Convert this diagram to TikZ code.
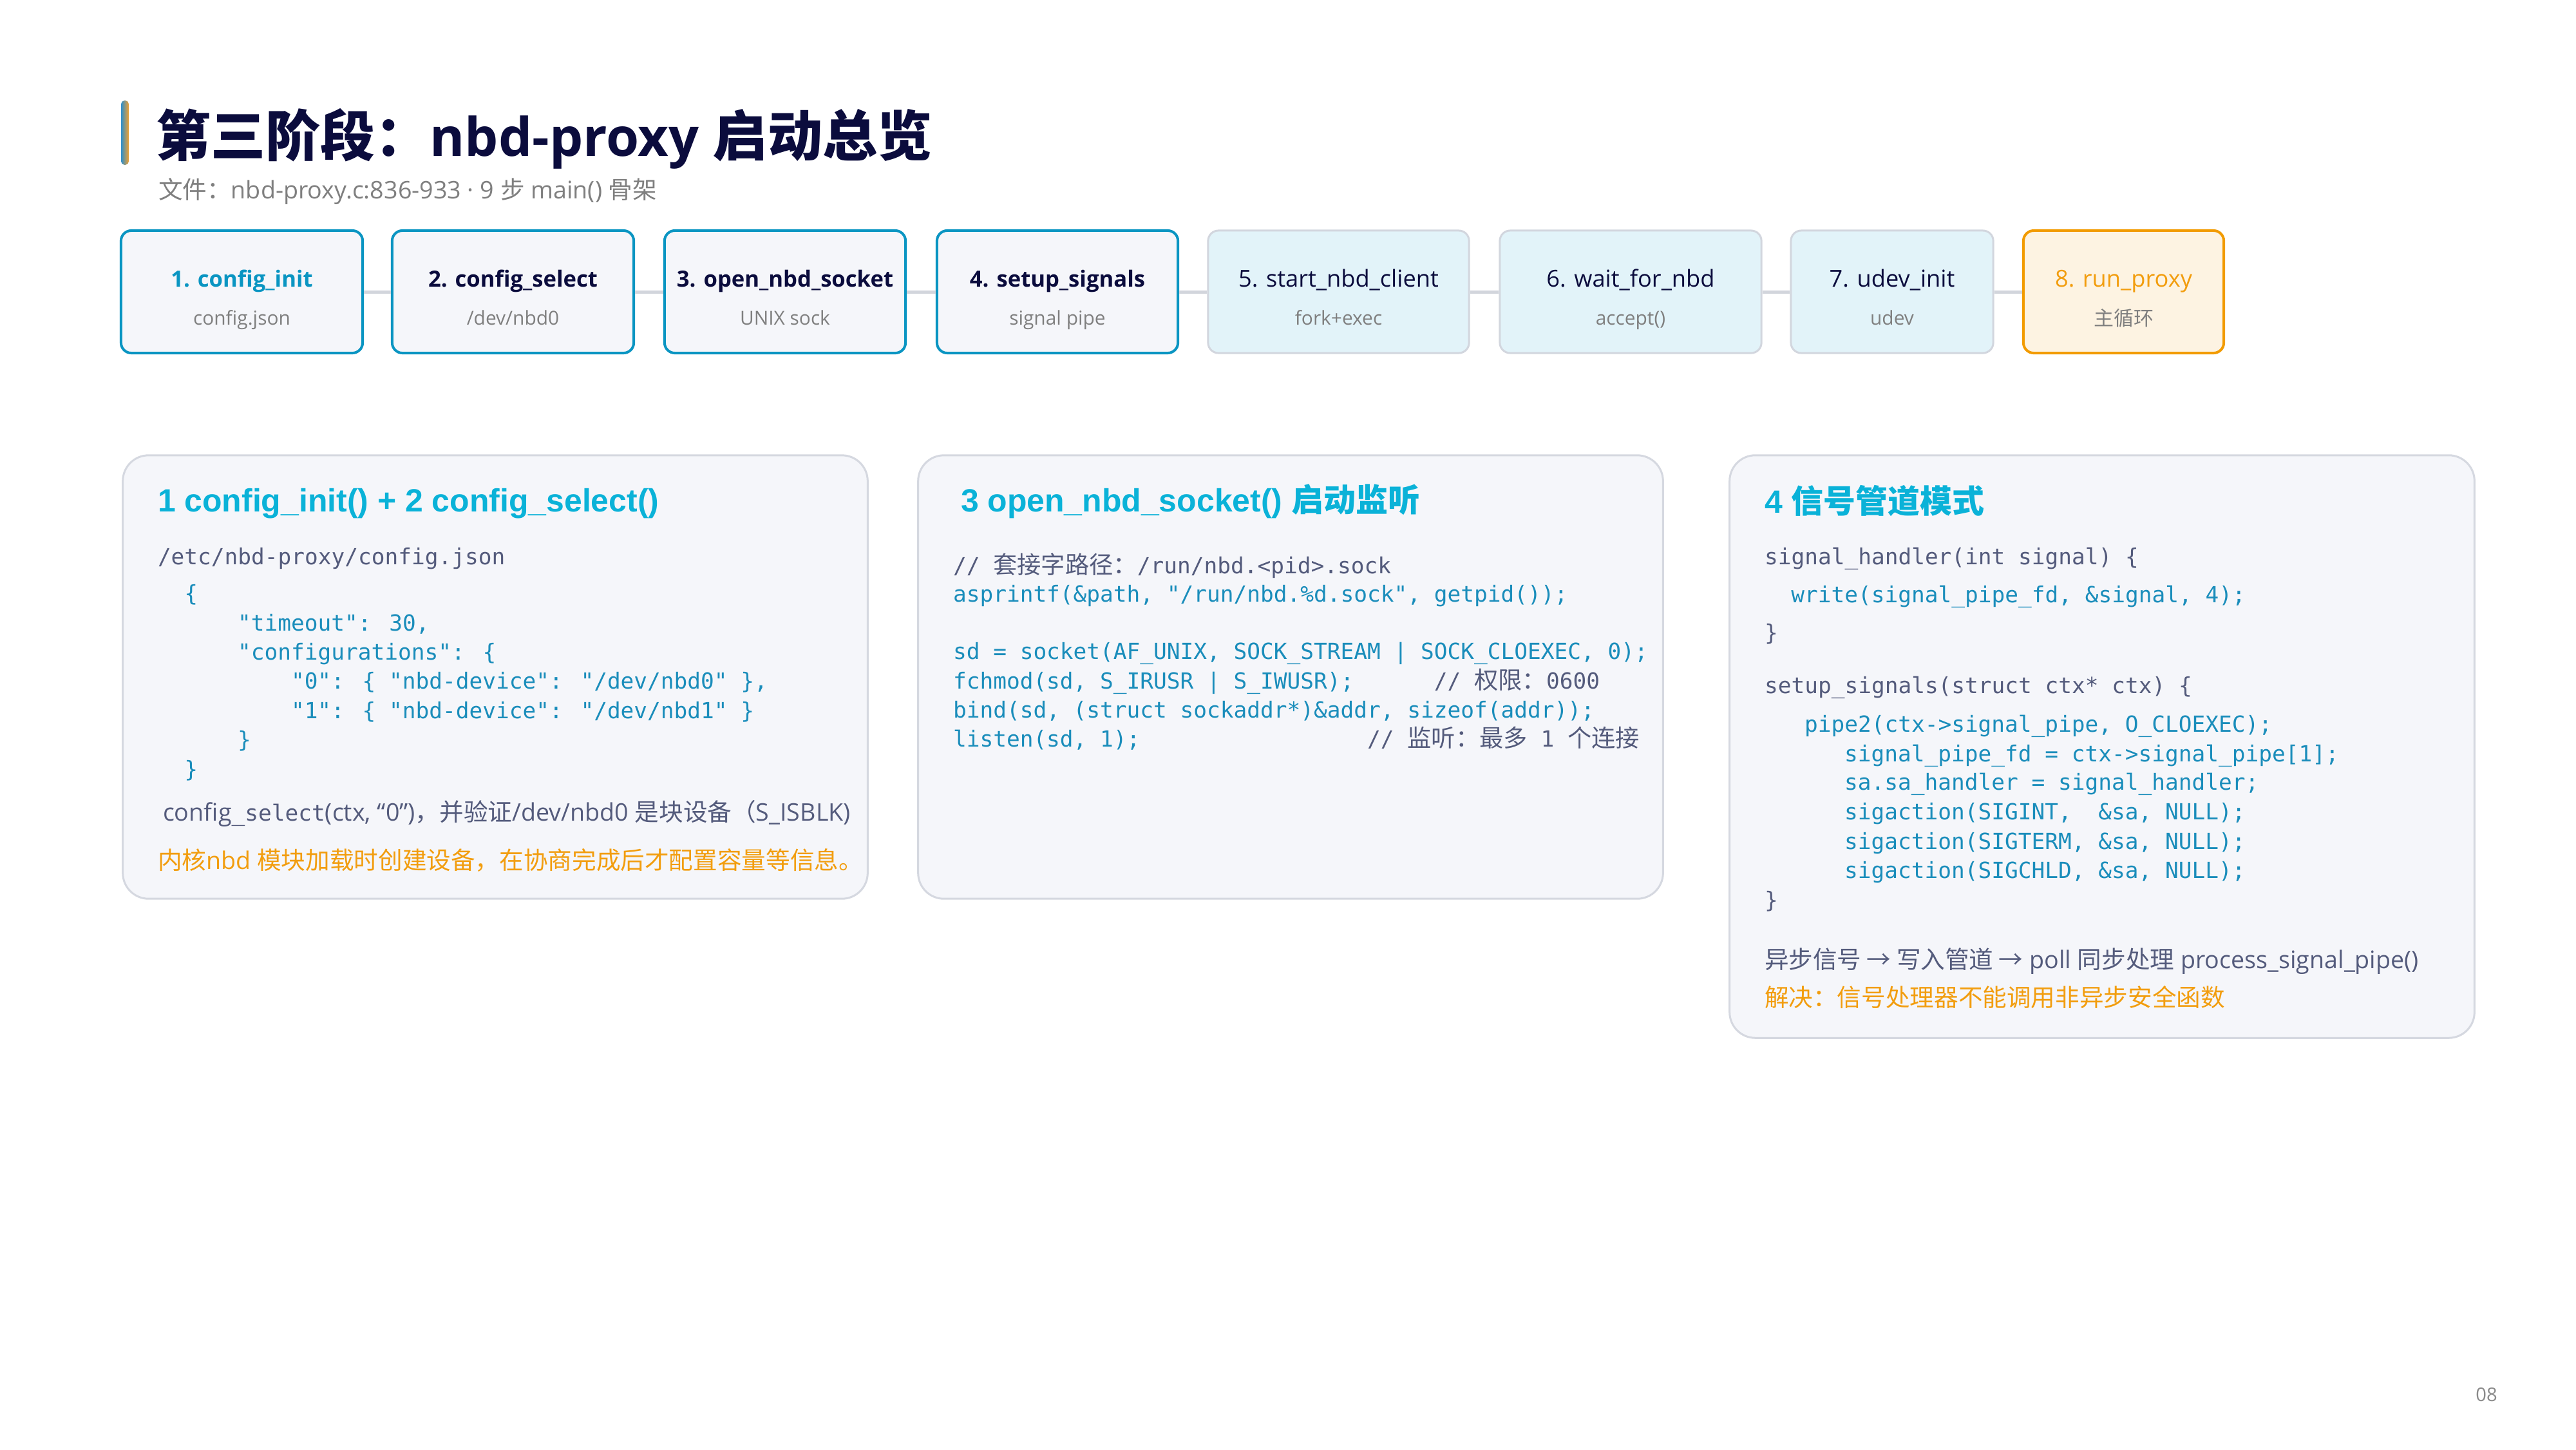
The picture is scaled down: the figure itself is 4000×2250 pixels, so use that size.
\documentclass[tikz,border=0pt]{standalone}
\usepackage{fontspec}
\setmainfont{Open Sans}
\newfontfamily\cjk{Noto Sans CJK SC}
\newfontfamily\mono{DejaVu Sans Mono}
\newfontfamily\arialf{Liberation Sans}
\usetikzlibrary{calc}
\newcommand\setfs[1]{\fontsize{#1}{#1}\selectfont}
\newcommand\ccj[1]{{\cjk\setfs{10.6pt}#1}}
\definecolor{navy}{HTML}{0B0C3D}
\definecolor{stepblue}{HTML}{0A95C2}
\definecolor{subgrey}{HTML}{7F7F7F}
\definecolor{ptcyan}{HTML}{0AB2D8}
\definecolor{codeblue}{HTML}{1A8DBB}
\definecolor{codegrey}{HTML}{545B7C}
\definecolor{orangec}{HTML}{F29D0E}
\definecolor{stepfill}{HTML}{F5F6FA}
\definecolor{lightfill}{HTML}{E2F3F9}
\definecolor{lightborder}{HTML}{D2D6DE}
\definecolor{creamfill}{HTML}{FDF3E2}
\definecolor{orangeborder}{HTML}{F29B00}
\definecolor{panelfill}{HTML}{F5F6FA}
\definecolor{panelborder}{HTML}{D5D8E0}
\definecolor{connc}{HTML}{D2D5DC}
\definecolor{pagegrey}{HTML}{8A8A8A}
\definecolor{barblue}{HTML}{2F8FCB}
\definecolor{barorange}{HTML}{F0A030}
\tikzset{
  txt/.style={inner sep=0pt, outer sep=0pt, anchor=base west},
  ctxt/.style={inner sep=0pt, outer sep=0pt, anchor=base},
  code/.style={txt, font=\mono\setfs{9.8pt}},
  cblue/.style={code, text=codeblue},
  cgrey/.style={code, text=codegrey},
  body/.style={txt, font=\setfs{10.7pt}, text=codegrey},
  ptitle/.style={txt, font=\arialf\bfseries\setfs{14.2pt}, text=ptcyan},
  stepbase/.style={rectangle, rounded corners=1.6mm, minimum height=19mm, inner sep=0pt},
  stepA/.style={stepbase, draw=stepblue, fill=stepfill, line width=0.4mm},
  stepB/.style={stepbase, draw=lightborder, fill=lightfill, line width=0.3mm},
  stepC/.style={stepbase, draw=orangeborder, fill=creamfill, line width=0.4mm},
  lblb/.style={ctxt, font=\bfseries\setfs{9.85pt}, text=navy},
  lblr/.style={ctxt, font=\setfs{10.3pt}, text=navy},
  sublbl/.style={ctxt, font=\setfs{8.5pt}, text=subgrey},
  conn/.style={draw=connc, line width=0.5mm},
  panel/.style={rectangle, rounded corners=4mm, draw=panelborder, fill=panelfill, line width=0.3mm, inner sep=0pt}
}
\begin{document}
\begin{tikzpicture}[x=0.01cm, y=-0.01cm]
\fill[white] (0,0) rectangle (4000,2250);
\useasboundingbox (0,0) rectangle (4000,2250);

% title
\shade[left color=barblue, right color=barorange, rounded corners=0.55mm] (188,156) rectangle (200,256);
\node[txt, font=\bfseries\setfs{23.5pt}, text=navy] (title) at (242,242) {{\cjk\setfs{24.2pt}第三阶段：}nbd-proxy {\cjk\setfs{24.2pt}启动总览}};
\node[txt, font=\setfs{10.7pt}, text=subgrey] (subtitle) at (246,308) {{\cjk 文件：}nbd-proxy.c:836-933 · 9 {\cjk 步} main() {\cjk 骨架}};

% step boxes
\node[stepA, minimum width=37.5mm] (s1) at (375.5,453) {};
\node[stepA, minimum width=37.5mm] (s2) at (796.5,453) {};
\node[stepA, minimum width=37.4mm] (s3) at (1219,453) {};
\node[stepA, minimum width=37.4mm] (s4) at (1642,453) {};
\node[stepB, minimum width=40.5mm] (s5) at (2078.5,453) {};
\node[stepB, minimum width=40.6mm] (s6) at (2532,453) {};
\node[stepB, minimum width=31.4mm] (s7) at (2938,453) {};
\node[stepC, minimum width=31.1mm] (s8) at (3297.5,453) {};
\draw[conn] (s1.east) -- (s2.west);
\draw[conn] (s2.east) -- (s3.west);
\draw[conn] (s3.east) -- (s4.west);
\draw[conn] (s4.east) -- (s5.west);
\draw[conn] (s5.east) -- (s6.west);
\draw[conn] (s6.east) -- (s7.west);
\draw[conn] (s7.east) -- (s8.west);

\node[lblb, text=stepblue] (l1) at (375.5,445) {1. config\_init};
\node[sublbl] (d1) at (375.5,504) {config.json};
\node[lblb] (l2) at (796.5,445) {2. config\_select};
\node[sublbl] (d2) at (796.5,504) {/dev/nbd0};
\node[lblb] (l3) at (1219,445) {3. open\_nbd\_socket};
\node[sublbl] (d3) at (1219,504) {UNIX sock};
\node[lblb] (l4) at (1642,445) {4. setup\_signals};
\node[sublbl] (d4) at (1642,504) {signal pipe};
\node[lblr] (l5) at (2078.5,445) {5. start\_nbd\_client};
\node[sublbl] (d5) at (2078.5,504) {fork+exec};
\node[lblr] (l6) at (2532,445) {6. wait\_for\_nbd};
\node[sublbl] (d6) at (2532,504) {accept()};
\node[lblr] (l7) at (2938,445) {7. udev\_init};
\node[sublbl] (d7) at (2938,504) {udev};
\node[lblr, text=orangec] (l8) at (3297.5,445) {8. run\_proxy};
\node[sublbl, font=\cjk\setfs{8.8pt}] (d8) at (3297.5,505) {主循环};

% panels
\node[panel, minimum width=115.6mm, minimum height=68.8mm] (p1) at (769,1051) {};
\node[panel, minimum width=115.6mm, minimum height=68.8mm] (p2) at (2004,1051) {};
\node[panel, minimum width=115.6mm, minimum height=90.4mm] (p3) at (3264,1159) {};

% panel 1
\node[ptitle] (t1) at (245,794) {1 config\_init() + 2 config\_select()};
\node[cgrey] (a0) at (245,876) {/etc/nbd-proxy/config.json};
\node[cblue] (a1) at (286.4,933) {\{};
\node[cblue] (a2) at (369.2,979) {"timeout": 30,};
\node[cblue] (a3) at (369.2,1024) {"configurations": \{};
\node[cblue] (a4) at (452,1069) {"0": \{ "nbd-device": "/dev/nbd0" \},};
\node[cblue] (a5) at (452,1115) {"1": \{ "nbd-device": "/dev/nbd1" \}};
\node[cblue] (a6) at (369.2,1160) {\}};
\node[cblue] (a7) at (286.4,1206) {\}};
\node[body] (a8) at (253,1274) {config{\mono\setfs{9.8pt}\_select}(ctx, “0”){\cjk ，并验证}/dev/nbd0 {\cjk 是块设备（}S\_ISBLK)};
\node[body, text=orangec] (a9) at (245,1349) {{\cjk 内核}nbd {\cjk 模块加载时创建设备，在协商完成后才配置容量等信息。}};

% panel 2
\node[ptitle] (t2) at (1492,794) {3 open\_nbd\_socket() {\cjk 启动监听}};
\node[cgrey] (b1) at (1480,890) {// \ccj{套接字路径：}/run/nbd.<pid>.sock};
\node[cblue] (b2) at (1480,934) {asprintf(\&path, "/run/nbd.\%d.sock", getpid());};
\node[cblue] (b3) at (1480,1023) {sd = socket(AF\_UNIX, SOCK\_STREAM | SOCK\_CLOEXEC, 0);};
\node[cblue] (b4) at (1480,1069) {fchmod(sd, S\_IRUSR | S\_IWUSR);~~~~~~{\color{codegrey}// \ccj{权限：}0600}};
\node[cblue] (b5) at (1480,1114) {bind(sd, (struct sockaddr*)\&addr, sizeof(addr));};
\node[cblue] (b6) at (1480,1159) {listen(sd, 1);~~~~~~~~~~~~~~~~~{\color{codegrey}// \ccj{监听：最多} 1 \ccj{个连接}}};

% panel 3
\node[ptitle] (t3) at (2740,796) {4 {\cjk 信号管道模式}};
\node[cgrey] (c1) at (2740,876) {signal\_handler(int signal) \{};
\node[cblue] (c2) at (2781.4,935) {write(signal\_pipe\_fd, \&signal, 4);};
\node[cgrey] (c3) at (2740,994) {\}};
\node[cgrey] (c4) at (2740,1076) {setup\_signals(struct ctx* ctx) \{};
\node[cblue] (c5) at (2802,1136) {pipe2(ctx->signal\_pipe, O\_CLOEXEC);};
\node[cblue] (c6) at (2864.2,1182) {signal\_pipe\_fd = ctx->signal\_pipe[1];};
\node[cblue] (c7) at (2864.2,1226) {sa.sa\_handler = signal\_handler;};
\node[cblue] (c8) at (2864.2,1272) {sigaction(SIGINT,~~\&sa, NULL);};
\node[cblue] (c9) at (2864.2,1318) {sigaction(SIGTERM, \&sa, NULL);};
\node[cblue] (c10) at (2864.2,1363) {sigaction(SIGCHLD, \&sa, NULL);};
\node[cgrey] (c11) at (2740,1409) {\}};
\node[body] (c12) at (2740,1503) {{\cjk 异步信号 → 写入管道 →} poll {\cjk 同步处理} process\_signal\_pipe()};
\node[body, text=orangec] (c13) at (2740,1562) {{\cjk 解决：信号处理器不能调用非异步安全函数}};

% page number
\node[ctxt, font=\setfs{8.3pt}, text=pagegrey] (pg) at (3861,2175) {08};
\end{tikzpicture}
\end{document}
